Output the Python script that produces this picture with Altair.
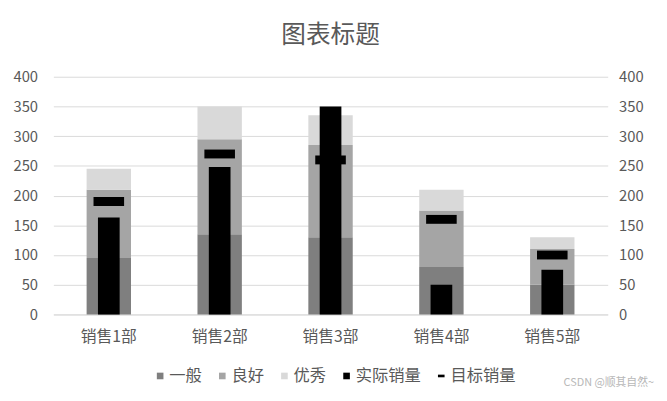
import altair as alt
import pandas as pd

depts = ["销售1部", "销售2部", "销售3部", "销售4部", "销售5部"]
level_names = ["一般", "良好", "优秀"]
general = [95, 135, 130, 80, 50]      # top of 一般 band
good = [210, 295, 285, 175, 110]      # top of 良好 band
excellent = [245, 350, 335, 210, 130] # top of 优秀 band
actual = [163, 248, 350, 50, 75]
target = [190, 270, 260, 160, 100]

legend_items = ["一般", "良好", "优秀", "实际销量", "目标销量"]
legend_colors = ["#7f7f7f", "#a5a5a5", "#d9d9d9", "#000000", "#000000"]
legend_shapes = ["square", "square", "square", "square", "M-1,-0.4H1V0.4H-1Z"]

FONT = "Noto Sans CJK SC"
GRAY = "#595959"

rows = []
for i, d in enumerate(depts):
    tops = [general[i], good[i], excellent[i]]
    start = 0
    for name, top in zip(level_names, tops):
        rows.append({"dept": d, "level": name, "start": start, "end": top})
        start = top
bands = pd.DataFrame(rows)
main = pd.DataFrame({"dept": depts, "actual": actual, "target": target})
leg = pd.DataFrame({"level": legend_items})

xenc = alt.X("dept:N", sort=depts, title=None,
             scale=alt.Scale(paddingInner=0, paddingOuter=0),
             axis=alt.Axis(labelAngle=0, ticks=False, domainColor="#d9d9d9",
                           labelPadding=14, labelFontSize=16, labelColor=GRAY))
yscale = alt.Scale(domain=[0, 400], nice=False)
yvals = list(range(0, 401, 50))

color_scale = alt.Scale(domain=legend_items, range=legend_colors)
shape_scale = alt.Scale(domain=legend_items, range=legend_shapes)

legend_def = alt.Legend(title=None, orient="none", direction="horizontal",
                        legendX=100, legendY=295, symbolSize=45,
                        symbolStrokeWidth=0, symbolOpacity=1, labelFontSize=16.5,
                        labelColor=GRAY, labelOffset=1, columnPadding=12)

band_layer = alt.Chart(bands).mark_bar(size=45).encode(
    x=xenc,
    y=alt.Y("start:Q", scale=yscale, title=None,
            axis=alt.Axis(orient="left", values=yvals, domain=False, ticks=False,
                          gridColor="#d9d9d9", labelPadding=16, labelFontSize=15,
                          labelColor=GRAY)),
    y2="end:Q",
    color=alt.Color("level:N", scale=color_scale, legend=legend_def),
)

actual_layer = alt.Chart(main).mark_bar(size=22, color="#000000").encode(
    x=alt.X("dept:N", sort=depts),
    y=alt.Y("actual:Q", scale=yscale, title=None,
            axis=alt.Axis(orient="right", values=yvals, domain=False, ticks=False,
                          grid=False, labelPadding=11, labelFontSize=15,
                          labelColor=GRAY)),
)

target_layer = alt.Chart(main).mark_tick(size=31, thickness=9, color="#000000",
                                          opacity=1).encode(
    x=alt.X("dept:N", sort=depts),
    y=alt.Y("target:Q", scale=yscale, axis=None),
)

legend_layer = alt.Chart(leg).mark_point(size=0, filled=True, opacity=1).encode(
    color=alt.Color("level:N", scale=color_scale, legend=legend_def),
    shape=alt.Shape("level:N", scale=shape_scale, legend=legend_def),
)

wm = alt.Chart(pd.DataFrame({"t": ["CSDN @顺其自然~"]})).mark_text(
    align="right", baseline="middle", fontSize=11, color="#b8b8b8", font=FONT
).encode(text="t:N", x=alt.value(609), y=alt.value(311))

chart = alt.layer(band_layer, actual_layer, target_layer, legend_layer, wm).resolve_axis(
    y="independent"
).properties(
    width=562, height=241,
    title=alt.Title("图表标题", fontSize=25, color=GRAY, font=FONT,
                    fontWeight="normal", offset=22, anchor="middle"),
    padding={"left": 5, "top": 13, "right": 5, "bottom": 5},
).configure(font=FONT).configure_view(stroke=None)

chart.save("out.html", embed_options={"renderer": "svg", "actions": False})
